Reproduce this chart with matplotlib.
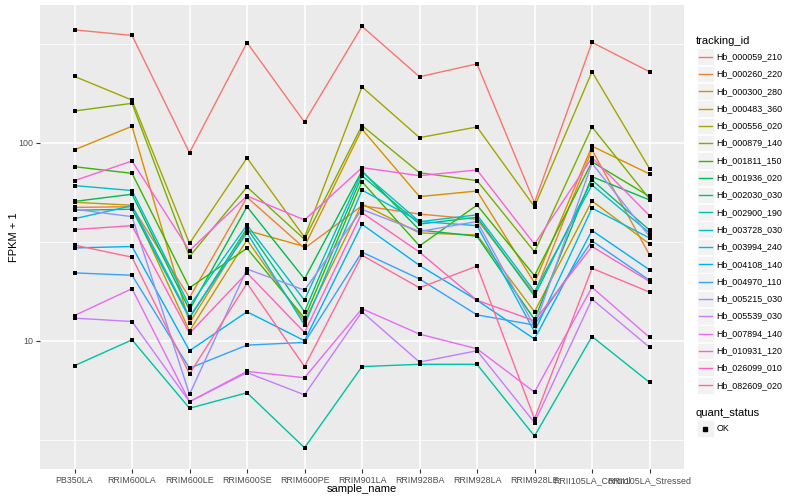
import numpy as np
import matplotlib
matplotlib.use("Agg")
import matplotlib.pyplot as plt
from matplotlib.patches import Rectangle
from matplotlib.lines import Line2D

plt.rcParams['font.family'] = ['Liberation Sans', 'DejaVu Sans']

samples = ["PB350LA", "RRIM600LA", "RRIM600LE", "RRIM600SE", "RRIM600PE",
           "RRIM901LA", "RRIM928BA", "RRIM928LA", "RRIM928LE",
           "RRII105LA_Control", "RRII105LA_Stressed"]

tracking_ids = ["Hb_000059_210", "Hb_000260_220", "Hb_000300_280", "Hb_000483_360",
                "Hb_000556_020", "Hb_000879_140", "Hb_001811_150", "Hb_001936_020",
                "Hb_002030_030", "Hb_002900_190", "Hb_003728_030", "Hb_003994_240",
                "Hb_004108_140", "Hb_004970_110", "Hb_005215_030", "Hb_005539_030",
                "Hb_007894_140", "Hb_010931_120", "Hb_026099_010", "Hb_082609_020"]

# FPKM + 1 values, one list per tracking_id, in sample order
fpkm = {
    "Hb_000059_210": [371, 348, 89, 320, 127, 387, 215, 250, 49.8, 321, 228],
    "Hb_000260_220": [47.1, 47.5, 16.5, 53.0, 29.3, 48, 43.6, 41, 17.2, 92, 27.1],
    "Hb_000300_280": [92, 121, 12.3, 36, 29.9, 117, 53.4, 57, 19.6, 96, 69.5],
    "Hb_000483_360": [50.0, 48.3, 11.2, 32.3, 12.5, 49, 35, 34.2, 14.0, 50.8, 30.8],
    "Hb_000556_020": [216, 164, 31, 83.7, 33.3, 191, 106, 120, 47.5, 228, 74],
    "Hb_000879_140": [144.5, 158, 26.6, 59.7, 32.5, 122, 70.5, 64.3, 28.1, 120, 52],
    "Hb_001811_150": [75.6, 70, 18.5, 29.3, 13, 63.5, 30.1, 48.4, 21.3, 80, 53.5],
    "Hb_001936_020": [50.5, 54.9, 14.3, 47.5, 20.5, 72, 36.2, 33.7, 12.8, 67.3, 51.4],
    "Hb_002030_030": [45.6, 46.1, 13.0, 37, 14, 68, 38.8, 42, 16.8, 64.8, 36.2],
    "Hb_002900_190": [7.48, 10.1, 4.56, 5.46, 2.88, 7.4, 7.6, 7.6, 3.3, 10.5, 6.16],
    "Hb_003728_030": [60.7, 57.3, 15.0, 38.4, 16, 71, 39.9, 43.2, 17.7, 61.1, 35],
    "Hb_003994_240": [41.3, 48, 13.2, 35, 12, 57.6, 40, 38.1, 11.1, 46.7, 33],
    "Hb_004108_140": [29.4, 29.9, 8.9, 14, 10, 38.7, 24, 16.0, 10.2, 36, 22.8],
    "Hb_004970_110": [22.0, 21.4, 7.26, 9.5, 9.8, 28, 20.5, 13.5, 12, 31.9, 20.2],
    "Hb_005215_030": [46.1, 42.3, 5.36, 23, 18, 46, 35.6, 40, 11.8, 78.7, 33.6],
    "Hb_005539_030": [13.0, 12.5, 4.92, 6.9, 5.33, 14, 7.8, 8.9, 3.86, 16.2, 9.27],
    "Hb_007894_140": [13.4, 18.3, 4.92, 7.0, 6.5, 14.5, 10.8, 9.1, 5.5, 18.6, 10.4],
    "Hb_010931_120": [64.3, 80.8, 28.5, 53.8, 40.7, 74.8, 68.1, 72.8, 30.7, 84, 42.8],
    "Hb_026099_010": [36.4, 38.1, 10.9, 22, 11, 44.3, 28, 16, 12.6, 29.9, 19.9],
    "Hb_082609_020": [30.4, 26.4, 6.8, 19.5, 7.4, 27, 18.5, 23.8, 4.03, 23.2, 17.6],
}

quant_status = ["OK"]


def hcl_to_hex(h, c=100.0, l=65.0):
    Xn, Yn, Zn = 95.047, 100.0, 108.883
    hr = np.deg2rad(h)
    u = c * np.cos(hr)
    v = c * np.sin(hr)
    Y = Yn * ((l + 16) / 116) ** 3
    un = 4 * Xn / (Xn + 15 * Yn + 3 * Zn)
    vn = 9 * Yn / (Xn + 15 * Yn + 3 * Zn)
    up = u / (13 * l) + un
    vp = v / (13 * l) + vn
    X = 9.0 * Y * up / (4 * vp)
    Z = -X / 3 - 5 * Y + 3 * Y / vp
    X, Y, Z = X / 100, Y / 100, Z / 100
    r = 3.240479 * X - 1.537150 * Y - 0.498535 * Z
    g = -0.969256 * X + 1.875992 * Y + 0.041556 * Z
    b = 0.055648 * X - 0.204043 * Y + 1.057311 * Z

    def gam(t):
        t = 12.92 * t if t <= 0.0031308 else 1.055 * t ** (1 / 2.4) - 0.055
        return min(max(t, 0), 1)
    return "#%02X%02X%02X" % tuple(int(round(gam(t) * 255)) for t in (r, g, b))


n = len(tracking_ids)
hues = np.linspace(15, 375, n + 1)[:n]
colors = [hcl_to_hex(h % 360) for h in hues]

W, H = 800, 500
fig = plt.figure(figsize=(W / 100, H / 100), dpi=100)
fig.patch.set_facecolor("white")
px_l, px_r, px_t, px_b = 40, 684, 5, 469
pw, ph = px_r - px_l, px_b - px_t
ax = fig.add_axes([px_l / W, 1 - px_b / H, pw / W, ph / H])
ax.set_facecolor("#EBEBEB")
for s in ax.spines.values():
    s.set_visible(False)

x = np.arange(len(samples))
ax.set_yscale("log")
ax.set_ylim(2.25, 495.5)
ax.set_xlim(-0.6, len(samples) - 1 + 0.6)

# grid
for yv in [10 ** 0.5, 10 ** 1.5, 10 ** 2.5]:
    ax.axhline(yv, color="white", lw=0.55, zorder=0)
for yv in [10, 100]:
    ax.axhline(yv, color="white", lw=1.1, zorder=0)
for xv in x:
    ax.axvline(xv, color="white", lw=1.1, zorder=0)

for tid, col in zip(tracking_ids, colors):
    ax.plot(x, fpkm[tid], color=col, lw=1.0, zorder=2)
for tid in tracking_ids:
    ax.scatter(x, fpkm[tid], marker="s", s=8, color="black", zorder=3, linewidths=0)

TICK_FS, TITLE_FS = 6.4, 8.0
ax.set_yticks([10, 100])
ax.set_yticklabels(["10", "100"])
ax.yaxis.set_minor_locator(matplotlib.ticker.NullLocator())
ax.set_xticks(x)
ax.set_xticklabels(samples)
ax.tick_params(axis="both", colors="#333333", labelcolor="#4D4D4D", labelsize=TICK_FS,
               length=3, width=0.8, pad=2)
ax.set_xlabel("sample_name", fontsize=TITLE_FS, color="black")
ax.set_ylabel("FPKM + 1", fontsize=TITLE_FS, color="black")
ax.xaxis.set_label_coords(0.5, -(489 - px_b) / ph)
ax.xaxis.label.set_va("center")
ax.yaxis.set_label_coords(-(px_l - 14) / pw, 0.5)
ax.yaxis.label.set_va("center")

# legend (drawn manually, ggplot style)
def fx(px):
    return px / W


def fy(py):
    return 1 - py / H


fig.text(fx(696), fy(40.7), "tracking_id", fontsize=TITLE_FS, va="center", ha="left")
y0, dy = 56.7, 17.3
for i, (tid, col) in enumerate(zip(tracking_ids, colors)):
    yc = y0 + i * dy
    fig.patches.append(Rectangle((fx(697), fy(yc + 8.3)), 16.6 / W, 16.6 / H,
                                 transform=fig.transFigure, facecolor="#F2F2F2",
                                 edgecolor="white", lw=0.5))
    fig.lines.append(Line2D([fx(698.5), fx(711.5)], [fy(yc), fy(yc)], color=col, lw=1.0,
                            transform=fig.transFigure))
    fig.text(fx(716.5), fy(yc), tid, fontsize=TICK_FS, va="center", ha="left", color="black")

fig.text(fx(696), fy(412.7), "quant_status", fontsize=TITLE_FS, va="center", ha="left")
for j, q in enumerate(quant_status):
    yc = 428.7 + j * dy
    fig.patches.append(Rectangle((fx(697), fy(yc + 8.3)), 16.6 / W, 16.6 / H,
                                 transform=fig.transFigure, facecolor="#F2F2F2",
                                 edgecolor="white", lw=0.5))
    fig.lines.append(Line2D([fx(705)], [fy(yc)], marker="s", markersize=3, color="black",
                            linestyle="none", transform=fig.transFigure))
    fig.text(fx(716.5), fy(yc), q, fontsize=TICK_FS, va="center", ha="left", color="black")

fig.savefig("out.png", dpi=100)
